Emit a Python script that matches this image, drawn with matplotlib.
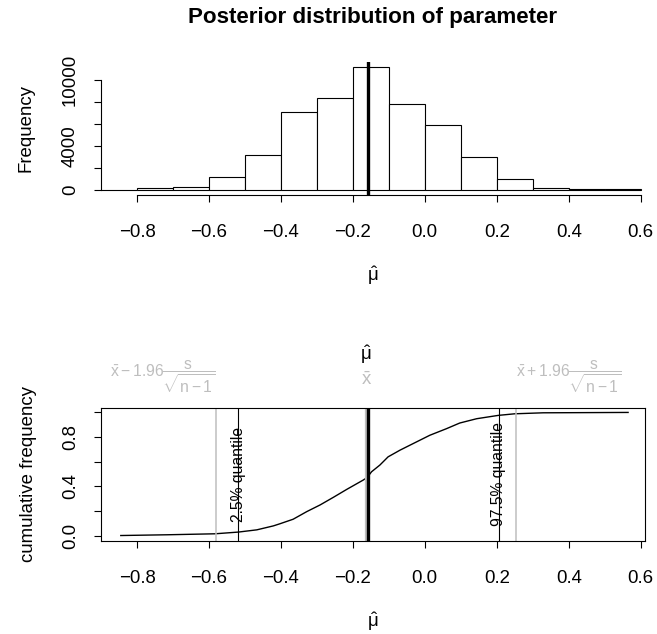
import numpy as np
import matplotlib
matplotlib.use("Agg")
import matplotlib.pyplot as plt

plt.rcParams['font.family'] = ['Liberation Sans', 'DejaVu Sans']
plt.rcParams['mathtext.fontset'] = 'custom'
plt.rcParams['mathtext.rm'] = 'Liberation Sans'
plt.rcParams['mathtext.it'] = 'Liberation Sans'
plt.rcParams['mathtext.default'] = 'rm'

# histogram of posterior draws
bin_edges = [-0.9, -0.8, -0.7, -0.6, -0.5, -0.4, -0.3, -0.2, -0.1,
             0.0, 0.1, 0.2, 0.3, 0.4, 0.5, 0.6]
counts = [10, 150, 300, 1180, 3210, 7090, 8390, 11210, 7820,
          5910, 2970, 1030, 150, 50, 50]
mu_hat = -0.158

ecdf_x = [-0.845, -0.717, -0.583, -0.518, -0.467, -0.421, -0.403, -0.366,
          -0.328, -0.291, -0.254, -0.217, -0.171, -0.160, -0.148, -0.125,
          -0.102, -0.069, -0.032, 0.014, 0.060, 0.097, 0.144, 0.204,
          0.250, 0.329, 0.565]
ecdf_y = [0.002, 0.008, 0.016, 0.030, 0.048, 0.080, 0.097, 0.134,
          0.196, 0.250, 0.312, 0.376, 0.452, 0.473, 0.519, 0.573,
          0.640, 0.694, 0.748, 0.815, 0.868, 0.914, 0.949, 0.976,
          0.989, 0.997, 1.000]

x_bar = -0.163
ci_lo, ci_hi = -0.581, 0.253      # xbar -/+ 1.96 s/sqrt(n-1)
q_lo, q_hi = -0.518, 0.206        # 2.5% and 97.5% quantiles

x_ticks = [-0.8, -0.6, -0.4, -0.2, 0.0, 0.2, 0.4, 0.6]
hist_yticks = [0, 2000, 4000, 6000, 8000, 10000]
hist_ylabels = ['0', '', '4000', '', '', '10000']
cdf_yticks = [0.0, 0.2, 0.4, 0.6, 0.8, 1.0]
cdf_ylabels = ['0.0', '', '0.4', '', '0.8', '']

GREY = '#bebebe'
FS = 13.4
W, H = 657, 634

fig = plt.figure(figsize=(W / 100, H / 100), dpi=100)
left, right = 101 / W, 645 / W

def style_ticks(ax):
    ax.tick_params(length=4.8, width=0.8, labelsize=FS)
    ax.tick_params(axis='x', pad=16)
    ax.tick_params(axis='y', pad=11, labelrotation=90)
    for lab in ax.get_yticklabels():
        lab.set_va('center')

# ---- top: histogram
ax1 = fig.add_axes([left, 1 - 195 / H, right - left, 133 / H])
widths = np.diff(bin_edges)
ax1.bar(bin_edges[:-1], counts, width=widths, align='edge',
        color='white', edgecolor='black', linewidth=0.8)
ax1.axvline(mu_hat, color='black', linewidth=2.4)
ax1.set_xlim(-0.9, 0.612)
ax1.set_ylim(-455, 11636)
for s in ['top', 'right']:
    ax1.spines[s].set_visible(False)
ax1.spines['bottom'].set_bounds(-0.8, 0.6)
ax1.spines['left'].set_bounds(0, 10000)
ax1.spines['bottom'].set_linewidth(0.8)
ax1.spines['left'].set_linewidth(0.8)
ax1.set_xticks(x_ticks)
ax1.set_xticklabels([f'{v:.1f}'.replace('-', '\u2212') for v in x_ticks])
ax1.set_yticks(hist_yticks)
ax1.set_yticklabels(hist_ylabels)
style_ticks(ax1)
ax1.set_ylabel('Frequency', fontsize=FS, labelpad=20)
ax1.set_xlabel(r'$\hat{\mu}$', fontsize=FS, labelpad=17)

fig.text((101 + 645) / 2 / W, 1 - 17 / H, 'Posterior distribution of parameter',
         ha='center', va='center', fontsize=FS * 1.2, fontweight='bold')

# ---- bottom: cumulative frequency
ax2 = fig.add_axes([left, 1 - 540.7 / H, right - left, 133.2 / H])
ax2.plot(ecdf_x, ecdf_y, color='black', linewidth=1.0)
ax2.axvline(ci_lo, color=GREY, linewidth=1.1)
ax2.axvline(ci_hi, color=GREY, linewidth=1.1)
ax2.axvline(x_bar, color=GREY, linewidth=1.6)
ax2.axvline(mu_hat, color='black', linewidth=2.4)
ax2.axvline(q_lo, color='black', linewidth=0.8)
ax2.axvline(q_hi, color='black', linewidth=0.8)
ax2.text(q_lo, 0.5, '2.5% quantile', rotation=90, ha='center', va='center',
         fontsize=11.3)
ax2.text(q_hi, 0.5, '97.5% quantile', rotation=90, ha='center', va='center',
         fontsize=11.3)
ax2.set_xlim(-0.9, 0.612)
ax2.set_ylim(-0.04, 1.04)
for s in ax2.spines.values():
    s.set_linewidth(0.8)
ax2.set_xticks(x_ticks)
ax2.set_xticklabels([f'{v:.1f}'.replace('-', '\u2212') for v in x_ticks])
ax2.set_yticks(cdf_yticks)
ax2.set_yticklabels(cdf_ylabels)
style_ticks(ax2)
ax2.set_ylabel('cumulative frequency', fontsize=FS, labelpad=18)
ax2.set_xlabel(r'$\hat{\mu}$', fontsize=FS, labelpad=17)

tr = ax2.get_xaxis_transform()
ax2.text(ci_lo, 1.236, r'$\bar{x} - 1.96\dfrac{s}{\sqrt{n-1}}$', transform=tr,
         ha='right', va='center', color=GREY, fontsize=11.3)
ax2.text(ci_hi, 1.236, r'$\bar{x} + 1.96\dfrac{s}{\sqrt{n-1}}$', transform=tr,
         ha='left', va='center', color=GREY, fontsize=11.3)
ax2.text(x_bar, 1.206, r'$\bar{x}$', transform=tr, ha='center', va='center',
         color=GREY, fontsize=FS)
ax2.text(x_bar, 1.394, r'$\hat{\mu}$', transform=tr, ha='center', va='center',
         color='black', fontsize=FS)

fig.savefig('out.png', dpi=100)
